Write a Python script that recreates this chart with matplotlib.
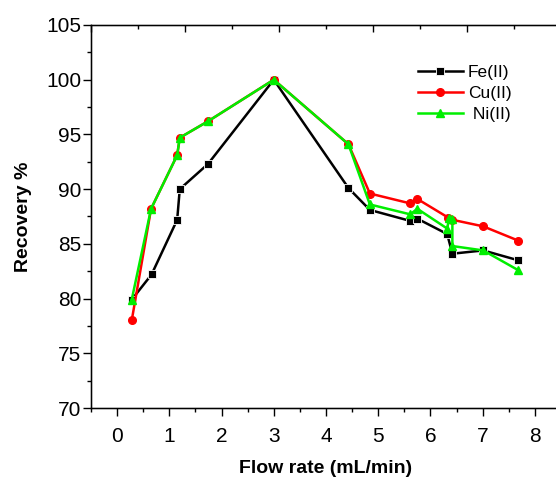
import matplotlib
matplotlib.use('Agg')
import matplotlib.pyplot as plt
from matplotlib.ticker import MultipleLocator

plt.rcParams['font.family'] = ['Liberation Sans', 'DejaVu Sans']

# data
fe_x = [0.28, 0.66, 1.15, 1.20, 1.74, 3.0, 4.43, 4.84, 5.61, 5.75, 6.32, 6.42, 7.01, 7.68]
fe_y = [79.9, 82.2, 87.2, 90.0, 92.3, 100.0, 90.1, 88.1, 87.1, 87.3, 85.9, 84.1, 84.4, 83.5]

cu_x = [0.28, 0.65, 1.15, 1.20, 1.74, 3.0, 4.43, 4.84, 5.61, 5.75, 6.34, 6.42, 7.01, 7.68]
cu_y = [78.0, 88.2, 93.1, 94.7, 96.2, 100.0, 94.1, 89.6, 88.7, 89.1, 87.4, 87.2, 86.6, 85.3]

ni_x = [0.28, 0.65, 1.15, 1.20, 1.74, 3.0, 4.43, 4.84, 5.61, 5.75, 6.32, 6.36, 6.42, 6.42, 7.01, 7.68]
ni_y = [79.9, 88.2, 93.1, 94.7, 96.2, 100.0, 94.1, 88.6, 87.7, 88.2, 86.4, 87.4, 87.3, 84.8, 84.4, 82.6]

fig = plt.figure(figsize=(5.56, 4.79), dpi=100)
ax = fig.add_axes([91/556, 71/479, 470/556, 383/479])

ax.plot(fe_x, fe_y, '-s', color='black', lw=1.8, ms=6, mec='white', mew=0.6, label='Fe(II)')
ax.plot(cu_x, cu_y, '-o', color='#ff0000', lw=1.8, ms=5.5, mec='#ff0000', label='Cu(II)')
ax.plot(ni_x, ni_y, '-^', color='#00ee00', lw=1.8, ms=6, mec='#00ee00', label=' Ni(II)')

ax.set_xlim(-0.5, 8.5)
ax.set_ylim(70, 105)
ax.xaxis.set_major_locator(MultipleLocator(1))
ax.xaxis.set_minor_locator(MultipleLocator(0.5))
ax.yaxis.set_major_locator(MultipleLocator(5))
ax.yaxis.set_minor_locator(MultipleLocator(2.5))
ax.tick_params(axis='both', which='major', direction='out', length=5.5, width=1, labelsize=15, top=False, right=False)
ax.tick_params(axis='both', which='minor', direction='out', length=3, width=1, top=False, right=False)
ax.tick_params(axis='x', which='major', pad=8)
ax.tick_params(axis='y', which='major', pad=1.5)
for s in ax.spines.values():
    s.set_linewidth(1)

ax.set_xlabel('Flow rate (mL/min)', fontsize=14, fontweight='bold', labelpad=10)
ax.set_ylabel('Recovery %', fontsize=14, fontweight='bold', labelpad=10)

# mirror axes on top and right (ticks only)
axt = ax.twiny()
axt.set_xlim(0, 1)
axt.xaxis.set_major_locator(MultipleLocator(0.2))
axt.xaxis.set_minor_locator(MultipleLocator(0.1))
axt.tick_params(axis='x', which='major', direction='in', length=5, width=1, labeltop=False)
axt.tick_params(axis='x', which='minor', direction='in', length=3, width=1)
axr = ax.twinx()
axr.set_ylim(0, 1)
axr.set_yticks([0.2, 0.4, 0.6, 0.8])
axr.tick_params(axis='y', direction='in', length=3, width=1, labelright=False)

ax.legend(loc='upper left', bbox_to_anchor=(0.68, 0.915), frameon=False, fontsize=12.5,
          handlelength=2.6, handletextpad=0.3, labelspacing=0.35, borderaxespad=0)

fig.savefig('out.png', dpi=100)
